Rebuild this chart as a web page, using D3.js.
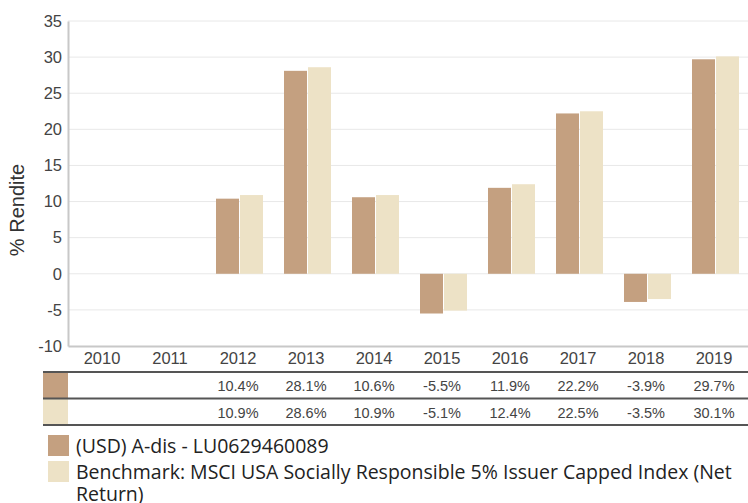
<!DOCTYPE html>
<meta charset="utf-8">
<style>
  body { margin: 0; background: #fff; }
  svg { display: block; }
</style>
<svg width="748" height="503"></svg>
<script src="https://d3js.org/d3.v7.min.js"></script>
<script>
var years = ["2010", "2011", "2012", "2013", "2014", "2015", "2016", "2017", "2018", "2019"];
var fund = [null, null, 10.4, 28.1, 10.6, -5.5, 11.9, 22.2, -3.9, 29.7];
var bench = [null, null, 10.9, 28.6, 10.9, -5.1, 12.4, 22.5, -3.5, 30.1];
var seriesColors = ["#c4a080", "#ede2c6"];
var yTicks = [-10, -5, 0, 5, 10, 15, 20, 25, 30, 35];

var svg = d3.select("svg");
var plotLeft = 68, plotRight = 748, plotTop = 21, plotBottom = 346;

var x = d3.scaleBand().domain(years).range([plotLeft, plotRight]);
var x1 = d3.scaleBand().domain([0, 1]).range([12, 60]);
var y = d3.scaleLinear().domain([-10, 35]).range([plotBottom, plotTop]);

// hyphen instead of unicode minus, like the original
function fmt(v) { return String(v).replace("\u2212", "-"); }
function pct(v) { return d3.format(".1f")(v).replace("\u2212", "-") + "%"; }

// grid
svg.append("g").selectAll("line")
    .data(yTicks.filter(function(d) { return d > -10; }))
    .enter().append("line")
    .attr("x1", plotLeft).attr("x2", plotRight)
    .attr("y1", function(d) { return y(d); })
    .attr("y2", function(d) { return y(d); })
    .attr("stroke", "#e8e8e8")
    .attr("stroke-width", 1);

// bars
var rows = [fund, bench];
rows.forEach(function(vals, s) {
    svg.append("g").selectAll("rect")
        .data(years.map(function(yr, i) { return { year: yr, v: vals[i] }; })
            .filter(function(d) { return d.v != null; }))
        .enter().append("rect")
        .attr("x", function(d) { return x(d.year) + x1(s); })
        .attr("width", x1.bandwidth() - 1)
        .attr("y", function(d) { return y(Math.max(0, d.v)); })
        .attr("height", function(d) { return Math.abs(y(d.v) - y(0)); })
        .attr("fill", seriesColors[s]);
});

// axes
var yAxis = svg.append("g")
    .attr("transform", "translate(" + plotLeft + ",0)")
    .call(d3.axisLeft(y).tickValues(yTicks).tickFormat(fmt).tickSize(0).tickPadding(6));
yAxis.select(".domain").attr("stroke", "#c8c8c8").attr("stroke-width", 2);
yAxis.selectAll("text")
    .attr("font-family", "Liberation Sans, Arial, sans-serif")
    .attr("font-size", 16.5).attr("fill", "#444");

var xAxis = svg.append("g")
    .attr("transform", "translate(0," + plotBottom + ")")
    .call(d3.axisBottom(x).tickSize(0).tickPadding(6));
xAxis.select(".domain").attr("stroke", "#c8c8c8").attr("stroke-width", 2);
xAxis.selectAll("text")
    .attr("font-family", "Liberation Sans, Arial, sans-serif")
    .attr("font-size", 16.5).attr("fill", "#444");

svg.append("text")
    .attr("transform", "translate(24,210) rotate(-90)")
    .attr("text-anchor", "middle")
    .attr("font-family", "Liberation Sans, Arial, sans-serif")
    .attr("font-size", 20).attr("fill", "#333")
    .text("% Rendite");

// table under the axis
var tableTop = 372, rowH = 26.5, tableLeft = 43;
rows.forEach(function(vals, s) {
    var ry = tableTop + s * rowH;
    svg.append("rect")
        .attr("x", tableLeft).attr("y", ry)
        .attr("width", plotLeft - tableLeft).attr("height", rowH)
        .attr("fill", seriesColors[s]);
    svg.append("g").selectAll("text")
        .data(years.map(function(yr, i) { return { year: yr, v: vals[i] }; })
            .filter(function(d) { return d.v != null; }))
        .enter().append("text")
        .attr("x", function(d) { return x(d.year) + x.bandwidth() / 2; })
        .attr("y", ry + 19)
        .attr("text-anchor", "middle")
        .attr("font-family", "Liberation Sans, Arial, sans-serif")
        .attr("font-size", 14.5).attr("fill", "#444")
        .text(function(d) { return pct(d.v); });
});
[0, 1, 2].forEach(function(i) {
    svg.append("line")
        .attr("x1", tableLeft).attr("x2", plotRight)
        .attr("y1", tableTop + i * rowH).attr("y2", tableTop + i * rowH)
        .attr("stroke", "#555").attr("stroke-width", 2);
});

// legend
var legendLines = [["(USD) A-dis - LU0629460089"],
    ["Benchmark: MSCI USA Socially Responsible 5% Issuer Capped Index (Net", "Return)"]];
var legY = [435, 461];
legendLines.forEach(function(lines, s) {
    svg.append("rect")
        .attr("x", 48).attr("y", legY[s])
        .attr("width", 21).attr("height", 21)
        .attr("fill", seriesColors[s]);
    var t = svg.append("text")
        .attr("x", 76).attr("y", legY[s] + 18)
        .attr("font-family", "Open Sans, sans-serif")
        .attr("font-size", 19.5).attr("fill", "#222");
    lines.forEach(function(l, k) {
        t.append("tspan").attr("x", 76).attr("dy", k ? 22 : 0).text(l);
    });
});
</script>
